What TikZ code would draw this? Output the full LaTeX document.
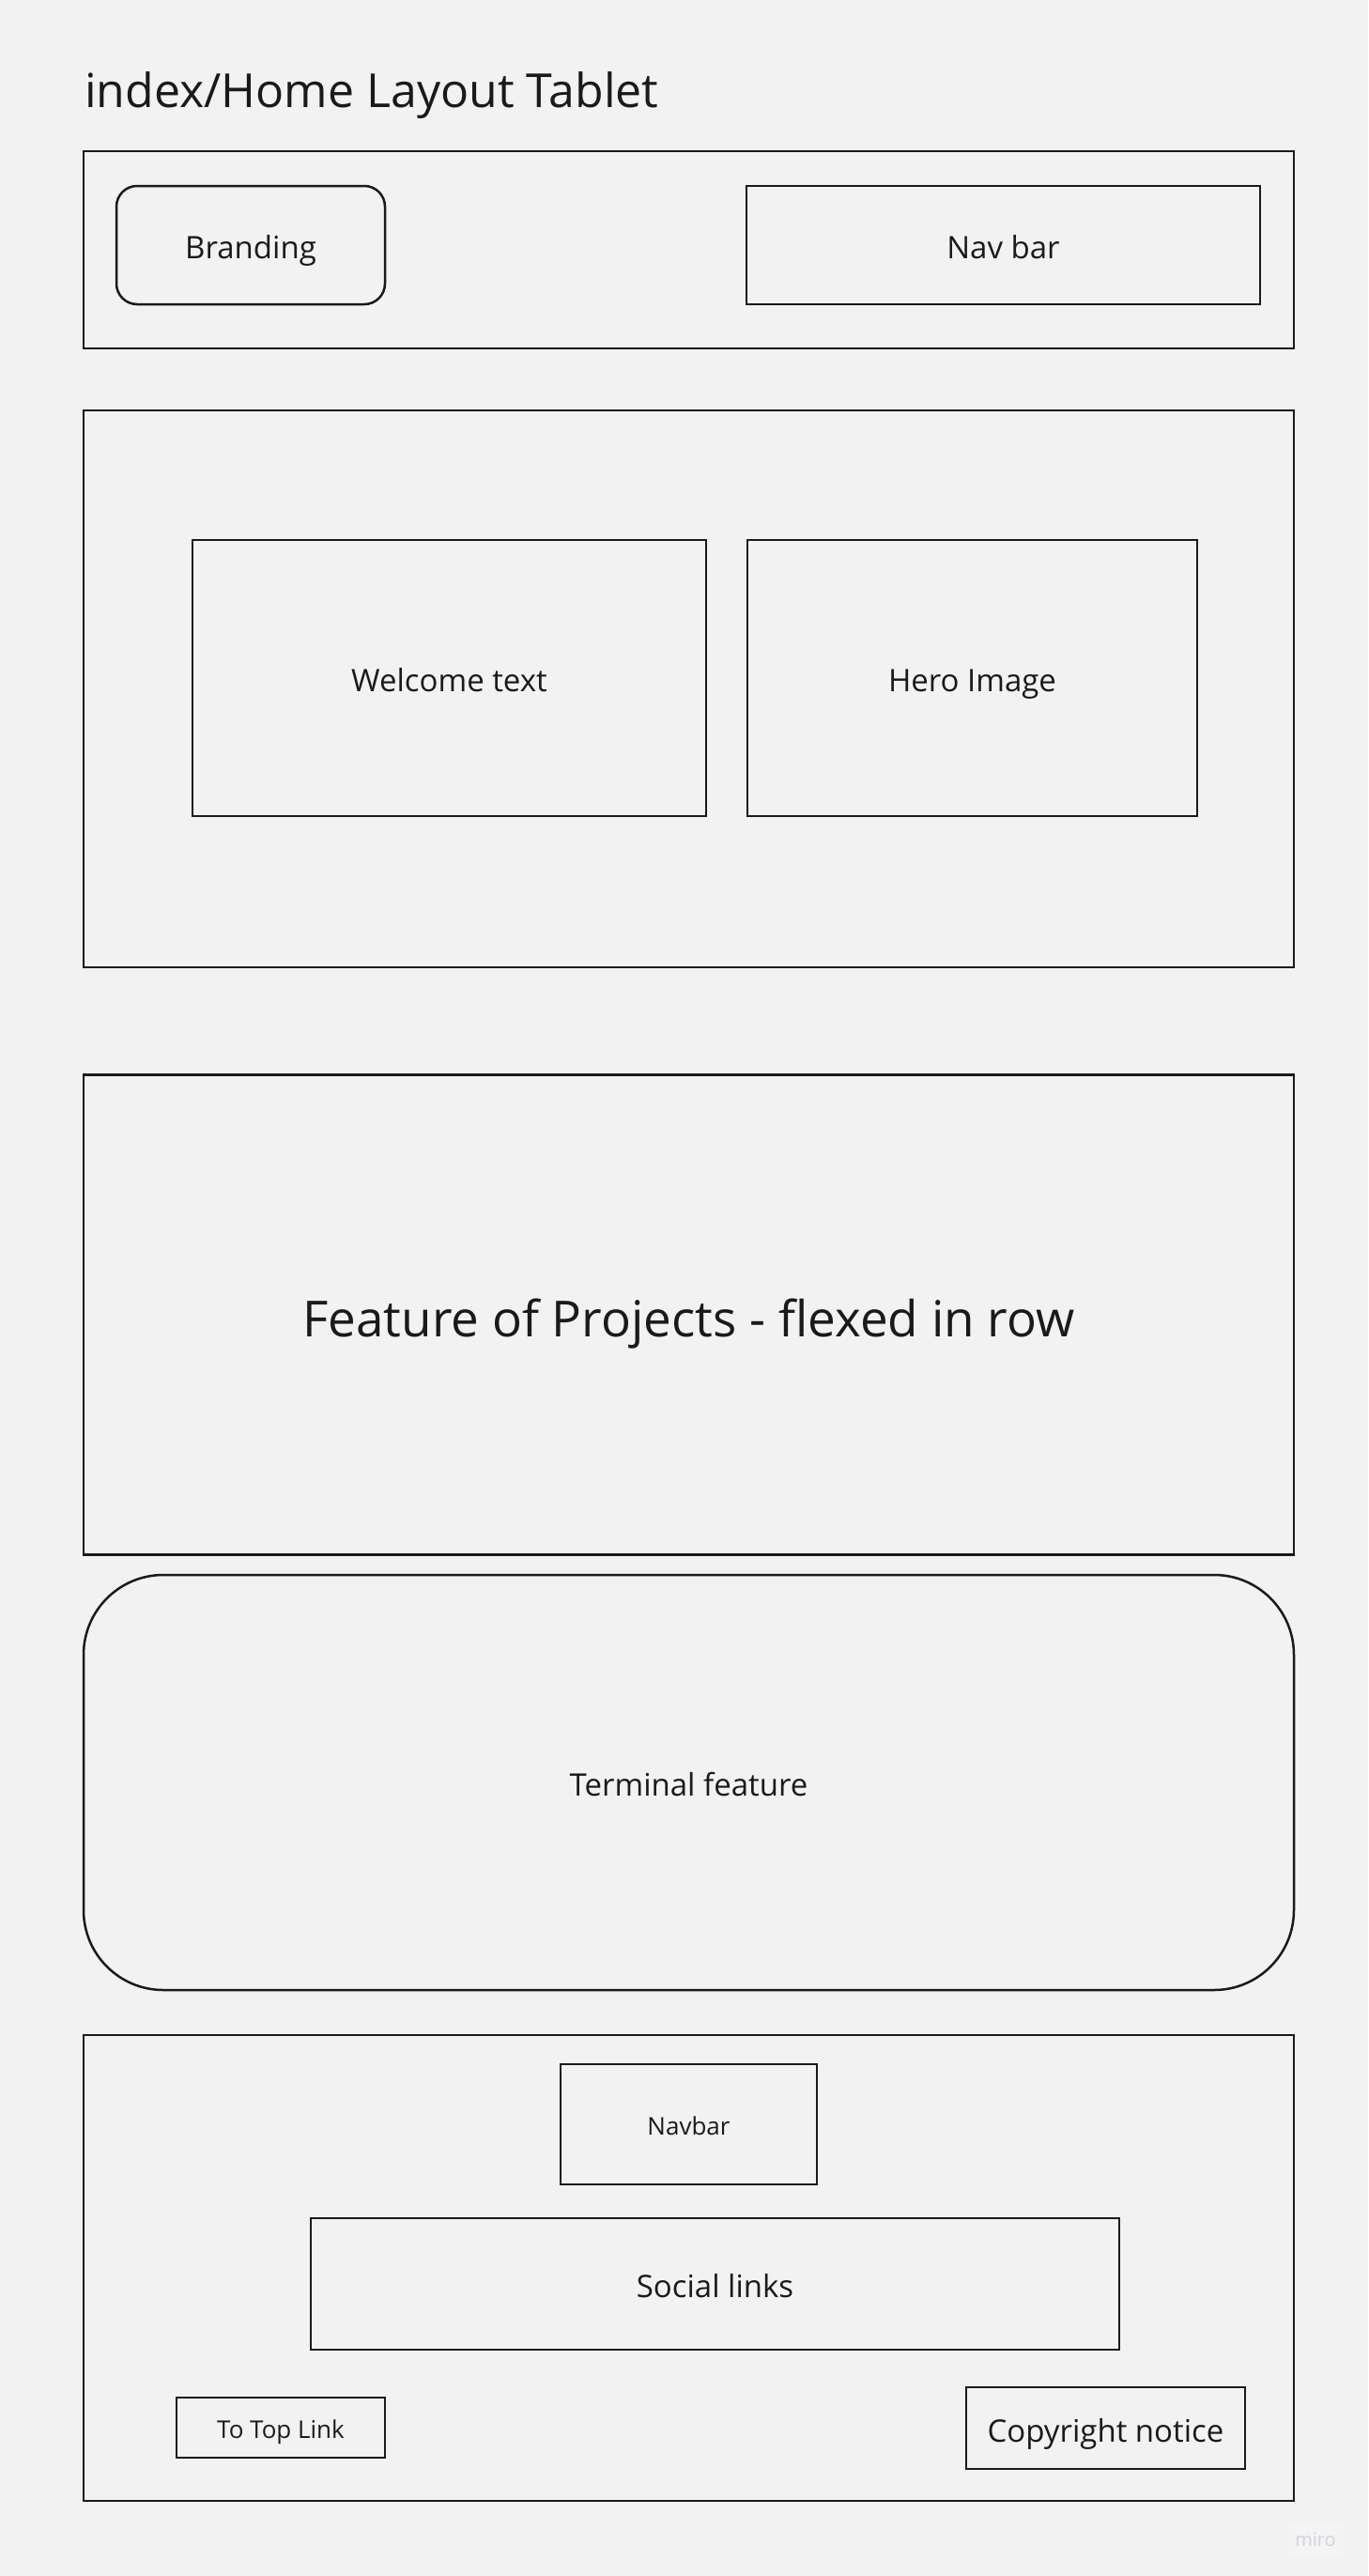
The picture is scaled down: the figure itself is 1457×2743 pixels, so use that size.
\documentclass[tikz,border=0pt]{standalone}
\usepackage{fontspec}
\setmainfont{Open Sans}
\definecolor{paper}{HTML}{F2F2F2}
\definecolor{ink}{HTML}{1A1A1A}
\definecolor{wmark}{HTML}{D2D2DC}
\definecolor{wbg}{HTML}{F4F4F4}
\newcommand{\fs}[1]{\fontsize{#1pt}{#1pt}\selectfont}
\begin{document}
\begin{tikzpicture}[x=1pt,y=-1pt,
  box/.style={draw=ink, line width=2.5pt, rectangle, inner sep=0pt,
    text=ink, align=center},
  % font size in pt; a fixed text box height puts the baseline a set way below the centre
  fsz/.code={\pgfmathsetmacro\capht{0.9*#1}%
    \edef\fsztmp{\noexpand\tikzset{font=\noexpand\fs{#1},text height=\capht pt,text depth=0pt}}\fsztmp}]
% page
\fill[paper] (0,0) rectangle (1457,2743);
\useasboundingbox (0,0) rectangle (1457,2743);

% title
\node[anchor=base west, text=ink, inner sep=0pt, font=\fs{50}] (title) at (90,115) {index/Home Layout Tablet};

% header
\node[box, minimum width=1289, minimum height=210] (header) at (733.5,266) {};
\node[box, rounded corners=22pt, minimum width=286, minimum height=126, fsz=33] (branding) at (267,261) {Branding};
\node[box, minimum width=547, minimum height=126, fsz=33] (navbar) at (1068.5,261) {Nav bar};

% hero section
\node[box, minimum width=1289, minimum height=593] (hero) at (733.5,733.5) {};
\node[box, minimum width=547, minimum height=294, fsz=33] (welcome) at (478.5,722) {Welcome text};
\node[box, minimum width=479, minimum height=294, fsz=33] (heroimg) at (1035.5,722) {Hero Image};

% projects feature
\node[box, minimum width=1289, minimum height=511, fsz=53] (projects) at (733.5,1400) {Feature of Projects - flexed in row};

% terminal feature
\node[box, rounded corners=85pt, minimum width=1289, minimum height=442, fsz=33] (terminal) at (733.5,1898) {Terminal feature};

% footer
\node[box, minimum width=1289, minimum height=496] (footer) at (733.5,2415) {};
\node[box, minimum width=273, minimum height=128, fsz=26] (footnav) at (733.5,2262) {Navbar};
\node[box, minimum width=861, minimum height=140, fsz=33] (social) at (761.5,2432) {Social links};
\node[box, minimum width=222, minimum height=64, fsz=26] (totop) at (299,2585) {To Top Link};
\node[box, minimum width=297, minimum height=87, fsz=33] (copyright) at (1177.5,2585.5) {Copyright notice};

% watermark
\node[fill=wbg, rounded corners=3pt, minimum width=62, minimum height=36, inner sep=0pt,
  text=wmark, font=\fs{20}] (wm) at (1401,2704) {miro};
\end{tikzpicture}
\end{document}
